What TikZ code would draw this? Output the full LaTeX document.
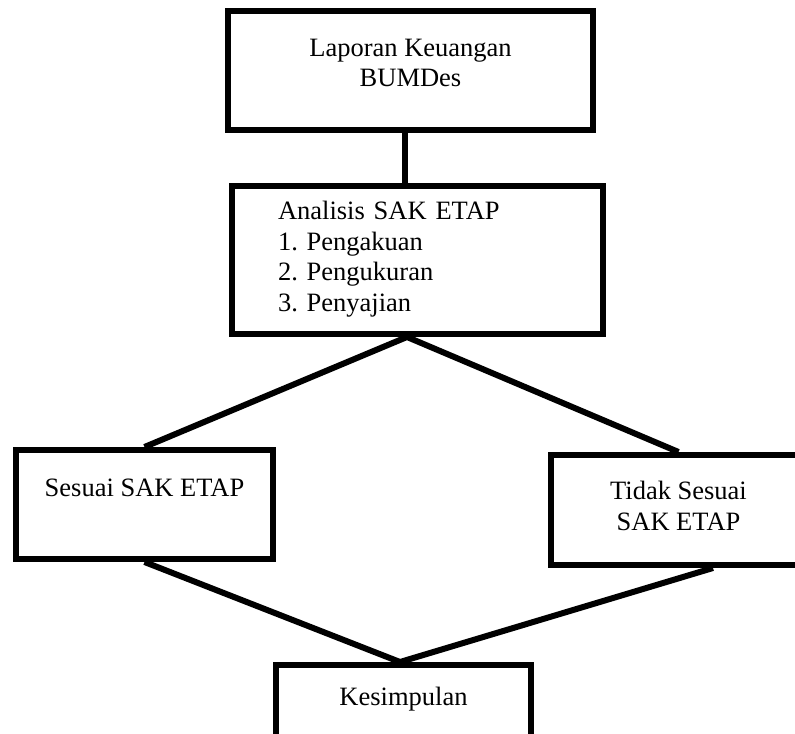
\documentclass[tikz,border=0pt]{standalone}
\usepackage{fontspec}
\setmainfont{Liberation Serif}
\frenchspacing

\begin{document}
\begin{tikzpicture}[x=0.5pt, y=0.5pt,
        block/.style={draw, line width=3pt, inner xsep=2pt, inner ysep=0pt, text height=0pt, text depth=0pt, align=center, font=\fontsize{13.25}{15.2}\selectfont},
        link/.style={line width=3pt}]
        \clip (0,0) rectangle (795,733);

        % Nodes
        \node [block, minimum width=182.5pt, minimum height=59.5pt, text height=16.5pt] (laporan) at (410.5,662.5) {Laporan Keuangan\\BUMDes};
        \node [block, align=left, text width=139.5pt, inner xsep=23pt, minimum height=74pt, text depth=40pt] (analisis) at (417.5,473) {Analisis SAK ETAP\\1. Pengakuan\\2. Pengukuran\\3. Penyajian};
        \node [block, minimum width=128.5pt, minimum height=54.5pt, text depth=8.5pt] (sesuai) at (144.5,228.5) {Sesuai SAK ETAP};
        \node [block, minimum width=127.5pt, minimum height=55pt, text height=20pt] (tidak) at (678.5,223) {Tidak Sesuai\\SAK ETAP};
        \node [block, minimum width=127.5pt, minimum height=55pt, text depth=15pt] (kesimpulan) at (403.5,13) {Kesimpulan};

        % Lines
        \draw [link] ([xshift=-2.75pt]laporan.south) -- ([xshift=-6.25pt]analisis.north);
        \draw [link] (sesuai.north) -- ([xshift=-5.25pt]analisis.south) -- (tidak.north);
        \draw [link] (sesuai.south) -- ([xshift=-1.75pt]kesimpulan.north) -- ([xshift=17.25pt]tidak.south);
\end{tikzpicture}
\end{document}
